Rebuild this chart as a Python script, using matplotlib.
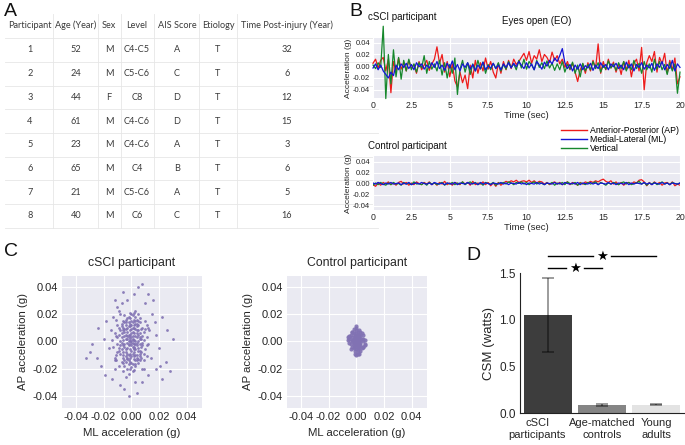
import numpy as np
import matplotlib
matplotlib.use("Agg")
import matplotlib.pyplot as plt
import matplotlib.transforms as mtransforms
from matplotlib.lines import Line2D

plt.rcParams['font.family'] = ['Liberation Sans', 'DejaVu Sans']

# ---------------- Panel A: table ----------------
headers = ['Participant', 'Age (Year)', 'Sex', 'Level', 'AIS Score', 'Etiology', 'Time Post-injury (Year)']
participants = ['1', '2', '3', '4', '5', '6', '7', '8']
ages = ['52', '24', '44', '61', '23', '65', '21', '40']
sexes = ['M', 'M', 'F', 'M', 'M', 'M', 'M', 'M']
levels = ['C4-C5', 'C5-C6', 'C8', 'C4-C6', 'C4-C6', 'C4', 'C5-C6', 'C6']
ais_scores = ['A', 'C', 'D', 'D', 'A', 'B', 'A', 'C']
etiology = ['T', 'T', 'T', 'T', 'T', 'T', 'T', 'T']
time_post = ['32', '6', '12', '15', '3', '6', '5', '16']

# ---------------- Panel B: acceleration time series (milli-g) ----------------
ap_cs_mg = [5, 12, -3, 10, 15, -8, 12, -45, 8, -10, 14, -5,
            6, -8, 10, -4, 3, -12, 8, -6, 2, 10, -7, 4,
            12, 33, 5, 20, -10, 8, -18, 4, -25, -35, -10, -28,
            -15, -38, 2, -20, 10, -12, 6, -8, 14, -5, 8, -10,
            -20, 5, -12, 8, -6, 10, -4, 12, 3, 8, 15, 22,
            10, 25, 5, 18, 12, 28, 8, 20, 15, 6, 24, 10,
            18, 4, 12, -2, 8, -6, 5, -10, -26, -6, 4, -12,
            6, -8, 10, -4, 38, -12, 8, -6, 12, -3, 7, -10,
            4, -14, 8, -6, 10, -18, 5, 12, -8, 32, -40, 6,
            18, 8, 25, -10, 15, 4, 22, -12, 10, -6, 14, -30, -18]
ml_cs_mg = [-3, 4, -6, 2, -8, -14, -20, -10, -16, 2, -6, 4,
            -2, 5, -4, 3, -6, 6, -1, 4, -5, 2, -3, 6,
            -2, 8, -4, 2, -7, 5, -3, 9, -6, 3, -8, 4,
            -2, 6, -5, 3, -8, 2, -4, 7, -6, 1, -3, 5,
            -4, 2, -6, 4, -2, 6, -3, 5, -1, 8, 2, -4,
            6, -3, 4, -6, 8, 2, -5, 7, 0, 10, 4, 14,
            8, 18, 30, 6, -4, 3, -8, 2, -5, 4, -6, 1,
            -3, 5, -7, 2, -4, 6, -2, 3, -6, 4, -1, 5,
            -4, 2, -6, 7, -3, 4, -8, 3, -2, 6, -5, 2,
            -3, 5, -7, 4, -2, 8, -6, 3, -4, 10, -8, 4, -2]
vt_cs_mg = [2, -4, 6, -2, 68, -55, 20, -30, 28, -18, 15, -22,
            10, -8, 12, -6, 4, -10, 6, -3, 18, -12, 8, -5,
            4, -8, 10, -15, 6, -20, 3, -12, 14, -48, -5, 10,
            -10, 6, -14, 4, -8, 10, -5, 7, -12, 3, -6, 5,
            -4, 6, -8, 3, -5, 8, -2, 4, -6, 10, -3, 12,
            -5, 8, 2, -6, 10, -2, 6, -4, 9, -3, 5, -7,
            4, -6, 8, -10, 3, -5, 7, -12, 2, -18, 5, -8,
            3, -6, 8, -4, 6, -10, 2, -5, 9, -3, 4, -7,
            6, -4, 8, -8, 3, -6, 10, -4, 5, -12, 8, -6,
            4, -10, 12, -5, 8, -6, 3, -14, 6, -8, 4, -46, -10]

ap_ct_mg = [-2, -5, 1, -3, 2, -1, 3, -2, 1, -3, 2, 4,
            -1, 2, -3, 1, -2, 3, 0, -2, 2, -1, 3, -2,
            1, -3, 2, -1, 4, -2, 1, -3, 2, 0, -2, 3,
            -1, 2, -3, 4, -2, 1, -1, 3, -2, 2, -4, 1,
            -5, 2, -3, 1, 4, 2, 5, 3, 6, 2, 4, 5,
            3, 6, 2, 5, 1, 4, 3, -1, 2, -2, 1, 3,
            -1, 2, -2, 1, 3, -2, 2, 0, -3, 2, -1, 3,
            1, 4, 2, 5, 3, 6, 8, 4, 2, 5, -1, 3,
            -2, 2, -3, 1, 2, -1, 3, 1, 6, 7, 3, -4,
            2, -2, 3, -1, 2, -3, 1, 2, -2, 3, -4, -1, -3]
ml_ct_mg = [1, -1, 2, 0, -2, 1, -1, 2, -1, 0, 1, -2,
            1, -1, 2, -2, 0, 1, -1, 2, 0, -1, 1, -2,
            2, 0, -1, 1, -2, 1, 0, -1, 2, -2, 1, 0,
            -1, 2, -1, 0, 1, -2, 2, -1, 1, 0, -2, 1,
            0, -1, 2, -1, 1, -2, 1, 0, -1, 2, -1, 1,
            -2, 1, 0, -1, 2, -1, 1, -2, 1, 0, -1, 2,
            -1, 1, -2, 2, 0, -1, 1, -1, 2, -2, 1, 0,
            -1, 2, -1, 1, -2, 1, 0, -1, 2, -1, 1, -2,
            1, 0, -1, 2, -2, 1, -1, 1, 0, -1, 2, -1,
            1, -2, 1, 0, -1, 2, -1, 1, -2, 1, 0, -1, 1]
vt_ct_mg = [-3, 1, -2, 2, -1, -3, 1, -2, 2, -1, 0, -3,
            2, -1, 1, -2, 3, -1, 0, -2, 1, -3, 2, -1,
            1, -2, 0, 2, -3, 1, -1, 2, -2, 1, -1, 3,
            -2, 1, 3, -1, 2, -2, 1, -3, 2, 0, -1, 2,
            -3, 1, 0, 2, -1, 3, 1, -2, 2, 0, 3, -1,
            2, -2, 1, 3, -1, 2, 0, -2, 1, -1, 2, -3,
            1, -1, 2, -2, 3, 0, -1, 2, -3, 1, 0, -2,
            2, -1, 1, 3, -2, 2, 0, -3, 1, -1, 2, 0,
            -2, 1, 3, -1, 2, -2, 0, 1, 4, -1, 2, -3,
            1, -1, 2, -2, 0, 3, -1, 1, -2, 2, 0, -1, 1]
duration_sec = 20
series_labels = ['Anterior-Posterior (AP)', 'Medial-Lateral (ML)', 'Vertical']
time_ticks = [0, 2.5, 5, 7.5, 10, 12.5, 15, 17.5, 20]
time_ticklabels = ['0', '2.5', '5', '7.5', '10', '12.5', '15', '17.5', '20']

# ---------------- Panel C: AP vs ML scatter (milli-g) ----------------
ml_cs_sc = [-2, 1, 4, -5, 0, 3, -7, 6, -1, 2,
            -4, 5, -3, 1, -6, 7, 0, -2, 4, -8,
            3, -1, 2, -5, 6, -3, 1, 8, -9, 0,
            -2, 5, -4, 2, -6, 3, -1, 7, -7, 1,
            4, -3, 0, -5, 6, -2, 2, -8, 5, -1,
            3, -4, 1, -6, 8, 0, -3, 4, -2, 6,
            -7, 2, -1, 5, -5, 3, -2, 1, -4, 7,
            0, -6, 4, -3, 2, -1, 5, -8, 3, -2,
            1, -5, 6, 0, -3, 2, -4, 4, -1, 7,
            -6, 3, -2, 1, -7, 5, 0, -4, 2, -1,
            8, -9, 3, -5, 6, 0, -3, 4, -1, 2,
            -10, -12, -11, 10, 11, 9, -10, -13, 12, -9,
            10, -11, 9, -12, 11, -8, 8, -10, 12, -14,
            -6, 5, -4, 3, -7, 6, -9, 9, -5, 4,
            -3, 2, -1, 0, 1, -2, 3, -4, 5, -6,
            -1, 0, 1, -2, 2, -3, 3, -4, 4, -5,
            5, -6, 6, -7, 7, -8, 8, -1, 1, -2,
            2, -3, 3, -4, 4, -5, 5, -6, 6, -7,
            0, 1, -1, 2, -3, 3, -9, 9, -10, 10,
            -11, 11, -12, 0, -2, 2, -4, 4, -6, 6,
            -15, -20, -25, -12, -18, -30, -22, -10, -14, -8,
            -5, -3, 2, 5, 8, 12, 10, 15, 18, 20,
            25, 28, 30, 22, 16, 12, 8, 4, -2, -12,
            -16, -24, -28, -19, -7, 14, 18, 22, 11, -11,
            9, -13, 13, -9, 26, -33, 17, -6, 3, 21]
ap_cs_sc = [3, -4, 8, -2, 12, -10, 6, 2, -15, 16,
            -8, -5, 10, 1, -12, 9, -7, 18, -14, 0,
            4, -20, -2, 14, -9, -5, 7, -1, 5, -11,
            -17, 12, 2, -8, 8, 15, 5, -12, -6, -1,
            3, -13, 20, -18, 6, 0, 10, -9, -16, 13,
            -6, 16, -22, 1, 4, 3, 7, -3, -10, 14,
            11, -13, 8, 0, -4, 18, -24, 4, -15, -4,
            -3, 15, 11, 2, 6, -6, 8, -3, -18, 14,
            -9, 9, -7, 9, -20, 1, 5, -10, 17, 2,
            -10, 9, -2, 14, 3, -13, -16, 12, -5, 2,
            10, -7, 0, 19, -2, 6, -9, 16, -12, 21,
            -2, 6, -10, -6, 3, -14, 12, -4, 10, -18,
            15, 16, 7, -14, -11, 20, -20, 3, -2, 1,
            -22, 20, -26, 22, -15, 17, 10, -9, 4, -1,
            -1, -11, 11, 15, -17, -14, 13, -11, 5, -8,
            0, -1, 2, -3, -4, 4, -2, -6, 6, 7,
            -7, -3, 3, -1, -8, 8, -3, -9, 10, 11,
            12, -12, -14, 14, 13, -14, 15, -16, -11, 13,
            -19, 19, 21, -21, 17, -17, -5, 1, -8, 9,
            4, -3, -12, 0, 5, -6, 9, -12, 10, -14,
            8, 2, -12, -20, 15, -8, -18, 25, -28, -32,
            -35, 30, 35, 40, 42, 35, 28, 20, 5, -5,
            -15, -22, 2, 18, 30, -25, -30, -38, -40, 30,
            -5, 10, -2, -25, 28, -12, -20, -28, 12, -14,
            -20, 18, 8, 22, 8, -12, 14, 36, -30, -18]
ml_ct_sc = [0, 1, -1, 2, -2, 0, 1, -1, 2, -2,
            3, -3, 0, 1, -1, 2, -2, 3, -3, 0,
            1, -1, 2, -2, 3, -3, 5, -5, 0, 1,
            -1, 2, -2, 3, -3, 0, 1, -1, 2, -2,
            5, -5, 4, -4, 0, 1, 2, -1, 5, -5,
            0, 1, -1, 2, -2, 1, -1, 4, -4, 6,
            0, 3, -3, 5, -4, 1, -1, 4, 0, 6,
            -6, 6, -5, 5, -2, 2, -3, 3, 0, -6]
ap_ct_sc = [0, 2, -2, -1, 1, 4, -4, 5, 3, -3,
            1, 0, -6, 7, -7, -5, 6, -3, 3, 8,
            -8, 1, 5, -5, 4, -4, 0, -1, -3, 3,
            -1, 0, 2, -1, 1, 2, -2, 3, -3, -1,
            2, 2, 6, -6, 10, -9, 8, -9, -4, 4,
            -1, 1, 0, 2, 0, 5, -4, -5, 5, 1,
            6, -7, 7, 5, -2, -6, 4, 2, -10, -2,
            1, -3, 3, -4, 9, -9, 7, 7, 11, 3]
scatter_ticks = [-0.04, -0.02, 0.0, 0.02, 0.04]
scatter_ticklabels = ['-0.04', '-0.02', '0.00', '0.02', '0.04']

# ---------------- Panel D: CSM bar chart ----------------
groups = ['cSCI\nparticipants', 'Age-matched\ncontrols', 'Young\nadults']
csm_watts = [1.05, 0.087, 0.088]
csm_err = [0.40, 0.007, 0.007]
bar_colors = ['#3d3d3d', '#858585', '#e3e3e3']
sig_pairs = [(0, 2), (0, 1)]

# ================= Figure =================
W, H = 685, 445
fig = plt.figure(figsize=(W / 100, H / 100), dpi=100)

def fx(px):
    return px / W

def fy(py):
    return 1 - py / H

# Base layer for table (pixel coordinates)
base = fig.add_axes([0, 0, 1, 1], zorder=-5)
base.set_xlim(0, W)
base.set_ylim(H, 0)
base.axis('off')

table_font = ['Lato', 'DejaVu Sans']
tcol = '#3a3a3a'
col_x = [30, 76, 109, 137, 177, 218, 287]
row_y0, row_dy = 50, 23.7
columns = [participants, ages, sexes, levels, ais_scores, etiology, time_post]
for cx, h in zip(col_x, headers):
    base.text(cx, 25, h, ha='center', va='center', fontsize=6.6, color=tcol, family=table_font)
n_rows = len(participants)
for ci, col in enumerate(columns):
    for ri, val in enumerate(col):
        base.text(col_x[ci], row_y0 + ri * row_dy, val, ha='center', va='center',
                  fontsize=6.6, color=tcol, family=table_font)
line_col = '#e6e6e6'
for vx in [53, 98, 121, 154, 199, 237]:
    base.plot([vx, vx], [14, row_y0 + (n_rows - 0.5) * row_dy], color=line_col, lw=0.6)
for ri in range(n_rows + 1):
    yy = row_y0 + (ri - 0.5) * row_dy
    base.plot([5, 378], [yy, yy], color=line_col, lw=0.6)

# Panel letters
for letter, (px, py) in zip('ABCD', [(4, 12), (349, 12), (4, 251), (466, 255)]):
    fig.text(fx(px), fy(py), letter, fontsize=14, va='center', ha='left', color='#111111')

grid_bg = '#EAEAF2'
tick_col = '#262626'

def style_dark(ax):
    ax.set_facecolor(grid_bg)
    for s in ax.spines.values():
        s.set_visible(False)
    ax.grid(True, color='white', lw=0.8)
    ax.set_axisbelow(True)
    ax.tick_params(length=0, colors=tick_col)

colors_b = {'ap': '#ee1b1b', 'ml': '#1414d6', 'vt': '#16882c'}

def draw_series(ax, ap, ml, vt, ylim, clip):
    t_ap = np.linspace(0, duration_sec, len(ap))
    t_ml = np.linspace(0, duration_sec, len(ml))
    t_vt = np.linspace(0, duration_sec, len(vt))
    ax.plot(t_ap, np.array(ap) / 1000, color=colors_b['ap'], lw=0.9, clip_on=clip)
    ax.plot(t_vt, np.array(vt) / 1000, color=colors_b['vt'], lw=0.9, clip_on=clip)
    ax.plot(t_ml, np.array(ml) / 1000, color=colors_b['ml'], lw=0.9, clip_on=clip)
    style_dark(ax)
    ax.set_xlim(0, duration_sec)
    ax.set_ylim(*ylim)
    ax.set_xticks(time_ticks)
    ax.set_xticklabels(time_ticklabels, fontsize=6.3)
    ax.set_yticks([-0.04, -0.02, 0.0, 0.02, 0.04])
    ax.set_yticklabels(['-0.04', '-0.02', '0.00', '0.02', '0.04'], fontsize=5.5)
    ax.tick_params(pad=2)
    ax.set_xlabel('Time (sec)', fontsize=6.8, labelpad=1, color=tick_col)
    ax.set_ylabel('Acceleration (g)', fontsize=6, labelpad=1, color=tick_col)

axB1 = fig.add_axes([fx(373), fy(98), fx(680) - fx(373), (98 - 38) / H])
draw_series(axB1, ap_cs_mg, ml_cs_mg, vt_cs_mg, (-0.054, 0.048), False)
axB2 = fig.add_axes([fx(373), fy(210), fx(680) - fx(373), (210 - 156) / H])
draw_series(axB2, ap_ct_mg, ml_ct_mg, vt_ct_mg, (-0.048, 0.05), True)

fig.text(fx(368), fy(17), 'cSCI participant', fontsize=7, ha='left', va='center', color='#111111')
fig.text(fx(537), fy(21), 'Eyes open (EO)', fontsize=7, ha='center', va='center', color='#111111')
fig.text(fx(368), fy(146), 'Control participant', fontsize=7, ha='left', va='center', color='#111111')

handles = [Line2D([], [], color=colors_b['ap'], lw=1.0),
           Line2D([], [], color=colors_b['ml'], lw=1.0),
           Line2D([], [], color=colors_b['vt'], lw=1.0)]
fig.legend(handles, series_labels, loc='upper left', bbox_to_anchor=(fx(561), fy(126)),
           frameon=False, fontsize=6.3, handlelength=3.0, handletextpad=0.3,
           labelspacing=0.0, borderpad=0, borderaxespad=0)

# Panel C
def draw_scatter(ax, xs, ys, title, size):
    ax.scatter(np.array(xs) / 1000, np.array(ys) / 1000, s=size, color='#8172B3',
               alpha=0.9, linewidths=0)
    style_dark(ax)
    ax.set_xlim(-0.05, 0.051)
    ax.set_ylim(-0.049, 0.048)
    ax.set_xticks(scatter_ticks)
    ax.set_xticklabels(scatter_ticklabels, fontsize=8)
    ax.set_yticks(scatter_ticks)
    ax.set_yticklabels(scatter_ticklabels, fontsize=8)
    ax.tick_params(pad=3)
    ax.set_xlabel('ML acceleration (g)', fontsize=8.2, color=tick_col, labelpad=4)
    ax.set_ylabel('AP acceleration (g)', fontsize=8.2, color=tick_col, labelpad=3)
    ax.set_title(title, fontsize=8.8, color=tick_col, pad=7)

axC1 = fig.add_axes([fx(62), fy(408), (202 - 62) / W, (408 - 276) / H])
draw_scatter(axC1, ml_cs_sc, ap_cs_sc, 'cSCI participant', 4)
axC2 = fig.add_axes([fx(287), fy(408), (427 - 287) / W, (408 - 276) / H])
draw_scatter(axC2, ml_ct_sc, ap_ct_sc, 'Control participant', 9)

# Panel D
axD = fig.add_axes([fx(520), fy(413), (684 - 520) / W, (413 - 273) / H])
xpos = np.arange(len(groups))
axD.bar(xpos, csm_watts, width=0.9, color=bar_colors, zorder=2)
axD.errorbar(xpos, csm_watts, yerr=csm_err, fmt='none', ecolor=(0, 0, 0, 0.42),
             elinewidth=1.3, capsize=4, capthick=1.3, zorder=3)
axD.set_xlim(-0.52, 2.52)
axD.set_ylim(0, 1.5)
axD.set_yticks([0.0, 0.5, 1.0, 1.5])
axD.set_yticklabels(['0.0', '0.5', '1.0', '1.5'], fontsize=8.5, color=tick_col)
axD.set_xticks(xpos)
axD.set_xticklabels([])
label_shift = [-0.2, 0.0, 0.0]
lbl_trans = mtransforms.blended_transform_factory(axD.transData, axD.transAxes)
for xp, g, dx in zip(xpos, groups, label_shift):
    axD.text(xp + dx, -0.035, g, transform=lbl_trans, ha='center', va='top',
             fontsize=8, color=tick_col, linespacing=1.2)
axD.tick_params(length=0, pad=3)
axD.spines['top'].set_visible(False)
axD.spines['right'].set_visible(False)
axD.spines['left'].set_color('#222222')
axD.spines['bottom'].set_color('#222222')
axD.set_ylabel('CSM (watts)', fontsize=9.5, color=tick_col, labelpad=3)

sig_y = [1.68, 1.55]
for (i0, i1), yy in zip(sig_pairs, sig_y):
    xm = (xpos[i0] + xpos[i1]) / 2
    gap = 0.16
    axD.plot([xpos[i0], xm - gap], [yy, yy], color='black', lw=1.0, clip_on=False)
    axD.plot([xm + gap, xpos[i1]], [yy, yy], color='black', lw=1.0, clip_on=False)
    axD.text(xm, yy, '\u2605', ha='center', va='center', fontsize=9.5,
             family=['DejaVu Sans'], color='black', clip_on=False)

fig.savefig('out.png', dpi=100)
